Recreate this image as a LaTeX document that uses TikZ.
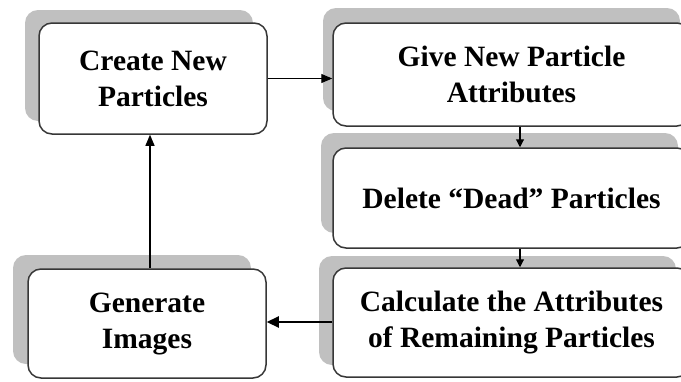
\documentclass[tikz,border=0pt]{standalone}
\usepackage{fontspec}
\setmainfont{Liberation Serif}
\usetikzlibrary{shadows,arrows.meta}
\definecolor{shadowgray}{RGB}{192,192,192}
\definecolor{edgegray}{RGB}{55,55,55}
\begin{document}
\begin{tikzpicture}[x=1pt,y=-1pt,
  box/.style n args={4}{draw=edgegray, line width=1.5pt, fill=white,
    rounded corners=13pt, align=center, inner sep=0pt,
    minimum width=#1pt, minimum height=#2pt,
    font=\fontsize{29.5}{36}\selectfont\bfseries,
    general shadow={fill=shadowgray, shadow xshift=#3pt, shadow yshift=#4pt}},
  arr/.style={draw=black, line width=1.1pt, -{Triangle[length=11pt,width=9pt]}},
  arrs/.style={draw=black, line width=1.1pt, -{Triangle[length=8pt,width=8pt]}},
  arrb/.style={draw=black, line width=2.2pt, -{Triangle[length=12pt,width=11pt]}}]
\clip (0,0) rectangle (681,381);
\fill[white] (0,0) rectangle (681,381);
\node[box={228}{111}{-14}{13}] (c) at (153,78.5) {Create New\\Particles};
\node[box={357}{103}{-10}{15}] (g) at (511.5,74.5) {Give New Particle\\Attributes};
\node[box={357}{100}{-12}{15}] (d) at (511.5,198) {Delete “Dead” Particles};
\node[box={357}{109}{-14}{12}] (k) at (511.5,322.5) {Calculate the Attributes\\of Remaining Particles};
\node[box={238}{109}{-15}{14}] (m) at (147,323.5) {Generate\\Images};
\draw[arr] (c.east) -- (c.east -| g.west);
\draw[arrs] ([xshift=8.5pt]g.south) -- ([xshift=8.5pt]d.north);
\draw[arrs] ([xshift=8.5pt]d.south) -- ([xshift=8.5pt]k.north);
\draw[arrb] (k.west |- 0,322) -- (m.east |- 0,322);
\draw[arr] ([xshift=3pt]m.north) -- ([xshift=-3pt]c.south);
\end{tikzpicture}
\end{document}
